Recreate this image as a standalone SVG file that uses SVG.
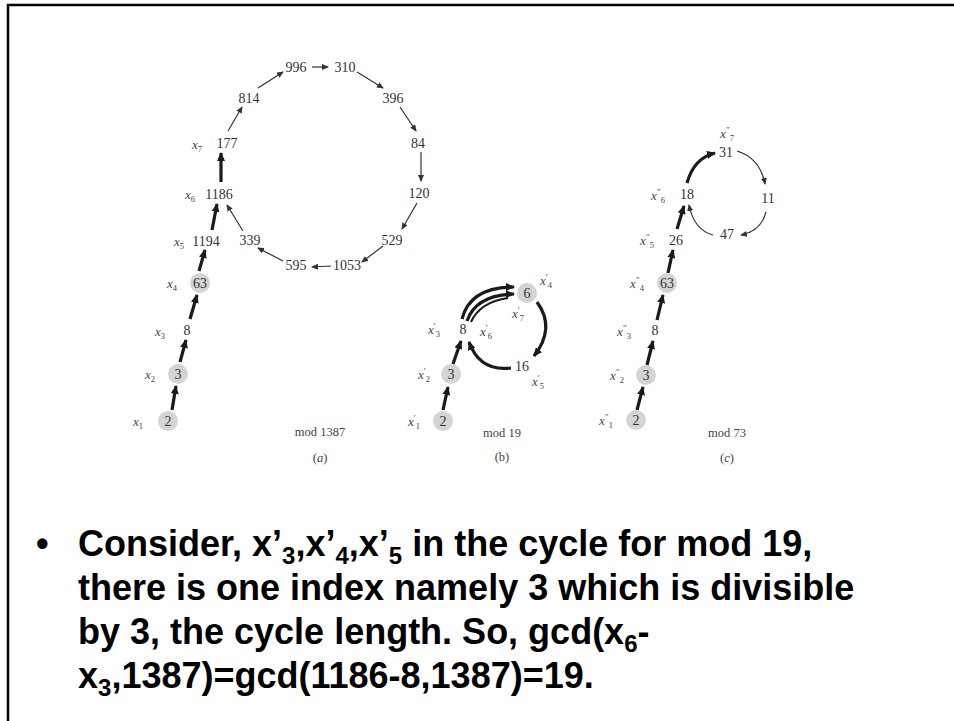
<svg xmlns="http://www.w3.org/2000/svg" width="954" height="721" viewBox="0 0 954 721">
<style>
.num{font-family:"Liberation Serif","DejaVu Serif",serif;font-size:14px;fill:#333;text-anchor:middle}
.lab{font-family:"Liberation Serif","DejaVu Serif",serif;font-style:italic;font-size:13px;fill:#444;text-anchor:middle}
.sb{font-size:8.5px;font-style:normal}
.sp{font-size:9px;font-style:normal}
.cap{font-family:"Liberation Serif","DejaVu Serif",serif;font-size:12.5px;fill:#444;text-anchor:middle}
.nd{fill:#d4d4d4}
.thin{stroke:#333;stroke-width:1.2;fill:none;marker-end:url(#ah)}
.thick{stroke:#1a1a1a;stroke-width:3.2;fill:none;marker-end:url(#AH)}
.body{font-family:"Liberation Sans",Arial,sans-serif;font-weight:bold;font-size:36px;fill:#000}
.bs{font-size:24px}
</style>
<defs>
<marker id="ah" markerUnits="userSpaceOnUse" markerWidth="7" markerHeight="6" refX="6" refY="3" orient="auto"><path d="M0,0 L7,3 L0,6 z" fill="#333"/></marker>
<marker id="AH" markerUnits="userSpaceOnUse" markerWidth="9" markerHeight="8" refX="8" refY="4" orient="auto"><path d="M0,0 L9,4 L0,8 z" fill="#1a1a1a"/></marker>
</defs>
<rect width="954" height="721" fill="#fff"/>
<path d="M8,721 L8,5 L954,5" fill="none" stroke="#000" stroke-width="2.5"/>

<g id="connectors">
<!-- panel a -->
<line class="thick" x1="172" y1="410" x2="176" y2="386"/>
<line class="thick" x1="180" y1="362" x2="186" y2="340"/>
<line class="thick" x1="190" y1="319" x2="197" y2="295"/>
<line class="thick" x1="199" y1="271" x2="205" y2="250"/>
<line class="thick" x1="212" y1="230" x2="217" y2="204"/>
<line class="thick" x1="221" y1="182" x2="221" y2="153"/>
<line class="thin" x1="228" y1="131" x2="242" y2="107"/>
<line class="thin" x1="258" y1="88" x2="283" y2="72"/>
<line class="thin" x1="312" y1="67" x2="328" y2="67"/>
<line class="thin" x1="357" y1="72" x2="383" y2="88"/>
<line class="thin" x1="400" y1="107" x2="416" y2="131"/>
<line class="thin" x1="421" y1="152" x2="421" y2="181"/>
<line class="thin" x1="417" y1="203" x2="402" y2="229"/>
<line class="thin" x1="383" y1="246" x2="362" y2="262"/>
<line class="thin" x1="331" y1="266" x2="312" y2="267"/>
<line class="thin" x1="283" y1="261" x2="258" y2="248"/>
<line class="thin" x1="243" y1="231" x2="227" y2="205"/>
<!-- panel b -->
<line class="thick" x1="443" y1="410" x2="448" y2="387"/>
<line class="thick" x1="453" y1="364" x2="461" y2="341"/>
<path class="thick" d="M462,319 Q470,287 514,287"/>
<path class="thick" d="M467,321 Q476,295 514,294"/>
<path d="M471,322 Q480,302 508,298" fill="none" stroke="#1a1a1a" stroke-width="2"/>
<path class="thick" d="M537,302 Q556,328 534,356"/>
<path class="thick" d="M511,368 Q480,372 469,342"/>
<!-- panel c -->
<line class="thick" x1="637" y1="410" x2="643" y2="387"/>
<line class="thick" x1="647" y1="365" x2="653" y2="341"/>
<line class="thick" x1="657" y1="320" x2="663" y2="295"/>
<line class="thick" x1="668" y1="273" x2="673" y2="250"/>
<line class="thick" x1="677" y1="229" x2="684" y2="206"/>
<path class="thick" d="M687,183 Q694,158 715,153"/>
<path class="thin" d="M737,151 Q760,158 765,184"/>
<path class="thin" d="M766,212 Q761,231 741,235"/>
<path class="thin" d="M713,235 Q694,230 689,205"/>
</g>

<g id="panel-a">
<g id="a-n2"><circle class="nd" cx="168" cy="421" r="10"/><text class="num" x="168" y="426">2</text><text class="lab" x="138" y="426">x<tspan class="sb" dy="3">1</tspan></text></g>
<g id="a-n3"><circle class="nd" cx="178" cy="374" r="10"/><text class="num" x="178" y="379">3</text><text class="lab" x="150" y="379">x<tspan class="sb" dy="3">2</tspan></text></g>
<g id="a-n8"><text class="num" x="187" y="335">8</text><text class="lab" x="160" y="336">x<tspan class="sb" dy="3">3</tspan></text></g>
<g id="a-n63"><circle class="nd" cx="200" cy="283" r="10"/><text class="num" x="200" y="288">63</text><text class="lab" x="172" y="288">x<tspan class="sb" dy="3">4</tspan></text></g>
<g id="a-n1194"><text class="num" x="206" y="246">1194</text><text class="lab" x="179" y="246">x<tspan class="sb" dy="3">5</tspan></text></g>
<g id="a-n1186"><text class="num" x="219" y="199">1186</text><text class="lab" x="190" y="199">x<tspan class="sb" dy="3">6</tspan></text></g>
<g id="a-n177"><text class="num" x="227" y="148">177</text><text class="lab" x="197" y="149">x<tspan class="sb" dy="3">7</tspan></text></g>
<g id="a-n814"><text class="num" x="249" y="103">814</text></g>
<g id="a-n996"><text class="num" x="296" y="72">996</text></g>
<g id="a-n310"><text class="num" x="345" y="72">310</text></g>
<g id="a-n396"><text class="num" x="393" y="103">396</text></g>
<g id="a-n84"><text class="num" x="418" y="148">84</text></g>
<g id="a-n120"><text class="num" x="419" y="198">120</text></g>
<g id="a-n529"><text class="num" x="392" y="245">529</text></g>
<g id="a-n1053"><text class="num" x="347" y="270">1053</text></g>
<g id="a-n595"><text class="num" x="296" y="270">595</text></g>
<g id="a-n339"><text class="num" x="250" y="245">339</text></g>
<text class="cap" x="320" y="436">mod 1387</text>
<text class="cap" x="320" y="462">(<tspan font-style="italic">a</tspan>)</text>
</g>

<g id="panel-b">
<g id="b-n2"><circle class="nd" cx="443" cy="421" r="10"/><text class="num" x="443" y="426">2</text><text class="lab" x="414" y="426">x<tspan class="sp" dy="-5">′</tspan><tspan class="sb" dy="8">1</tspan></text></g>
<g id="b-n3"><circle class="nd" cx="451" cy="374" r="10"/><text class="num" x="451" y="379">3</text><text class="lab" x="424" y="379">x<tspan class="sp" dy="-5">′</tspan><tspan class="sb" dy="8">2</tspan></text></g>
<g id="b-n8"><text class="num" x="463" y="334">8</text><text class="lab" x="434" y="334">x<tspan class="sp" dy="-5">′</tspan><tspan class="sb" dy="8">3</tspan></text><text class="lab" x="486" y="336">x<tspan class="sp" dy="-5">′</tspan><tspan class="sb" dy="8">6</tspan></text></g>
<g id="b-n6"><circle class="nd" cx="527" cy="293" r="10"/><text class="num" x="527" y="298">6</text><text class="lab" x="546" y="285">x<tspan class="sp" dy="-5">′</tspan><tspan class="sb" dy="8">4</tspan></text><text class="lab" x="518" y="318">x<tspan class="sp" dy="-5">′</tspan><tspan class="sb" dy="8">7</tspan></text></g>
<g id="b-n16"><text class="num" x="522" y="371">16</text><text class="lab" x="538" y="386">x<tspan class="sp" dy="-5">′</tspan><tspan class="sb" dy="8">5</tspan></text></g>
<text class="cap" x="502" y="437">mod 19</text>
<text class="cap" x="502" y="461">(b)</text>
</g>

<g id="panel-c">
<g id="c-n2"><circle class="nd" cx="636" cy="420" r="10"/><text class="num" x="636" y="425">2</text><text class="lab" x="606" y="425">x<tspan class="sp" dy="-5">″</tspan><tspan class="sb" dy="8">1</tspan></text></g>
<g id="c-n3"><circle class="nd" cx="646" cy="375" r="10"/><text class="num" x="646" y="380">3</text><text class="lab" x="617" y="380">x<tspan class="sp" dy="-5">″</tspan><tspan class="sb" dy="8">2</tspan></text></g>
<g id="c-n8"><text class="num" x="655" y="335">8</text><text class="lab" x="624" y="336">x<tspan class="sp" dy="-5">″</tspan><tspan class="sb" dy="8">3</tspan></text></g>
<g id="c-n63"><circle class="nd" cx="667" cy="283" r="10"/><text class="num" x="667" y="288">63</text><text class="lab" x="637" y="288">x<tspan class="sp" dy="-5">″</tspan><tspan class="sb" dy="8">4</tspan></text></g>
<g id="c-n26"><text class="num" x="676" y="245">26</text><text class="lab" x="647" y="245">x<tspan class="sp" dy="-5">″</tspan><tspan class="sb" dy="8">5</tspan></text></g>
<g id="c-n18"><text class="num" x="687" y="199">18</text><text class="lab" x="658" y="200">x<tspan class="sp" dy="-5">″</tspan><tspan class="sb" dy="8">6</tspan></text></g>
<g id="c-n31"><text class="num" x="726" y="157">31</text><text class="lab" x="727" y="138">x<tspan class="sp" dy="-5">″</tspan><tspan class="sb" dy="8">7</tspan></text></g>
<g id="c-n11"><text class="num" x="768" y="203">11</text></g>
<g id="c-n47"><text class="num" x="727" y="239">47</text></g>
<text class="cap" x="727" y="437">mod 73</text>
<text class="cap" x="727" y="462">(<tspan font-style="italic">c</tspan>)</text>
</g>

<g id="bullet-text">
<text class="body" x="36" y="556">•</text>
<text class="body" x="78" y="556">Consider, x’<tspan class="bs" dy="8">3</tspan><tspan dy="-8">,x’</tspan><tspan class="bs" dy="8">4</tspan><tspan dy="-8">,x’</tspan><tspan class="bs" dy="8">5</tspan><tspan dy="-8"> in the cycle for mod 19,</tspan></text>
<text class="body" x="78" y="600">there is one index namely 3 which is divisible</text>
<text class="body" x="78" y="644">by 3, the cycle length. So, gcd(x<tspan class="bs" dy="8">6</tspan><tspan dy="-8">-</tspan></text>
<text class="body" x="78" y="688">x<tspan class="bs" dy="8">3</tspan><tspan dy="-8">,1387)=gcd(1186-8,1387)=19.</tspan></text>
</g>
</svg>
